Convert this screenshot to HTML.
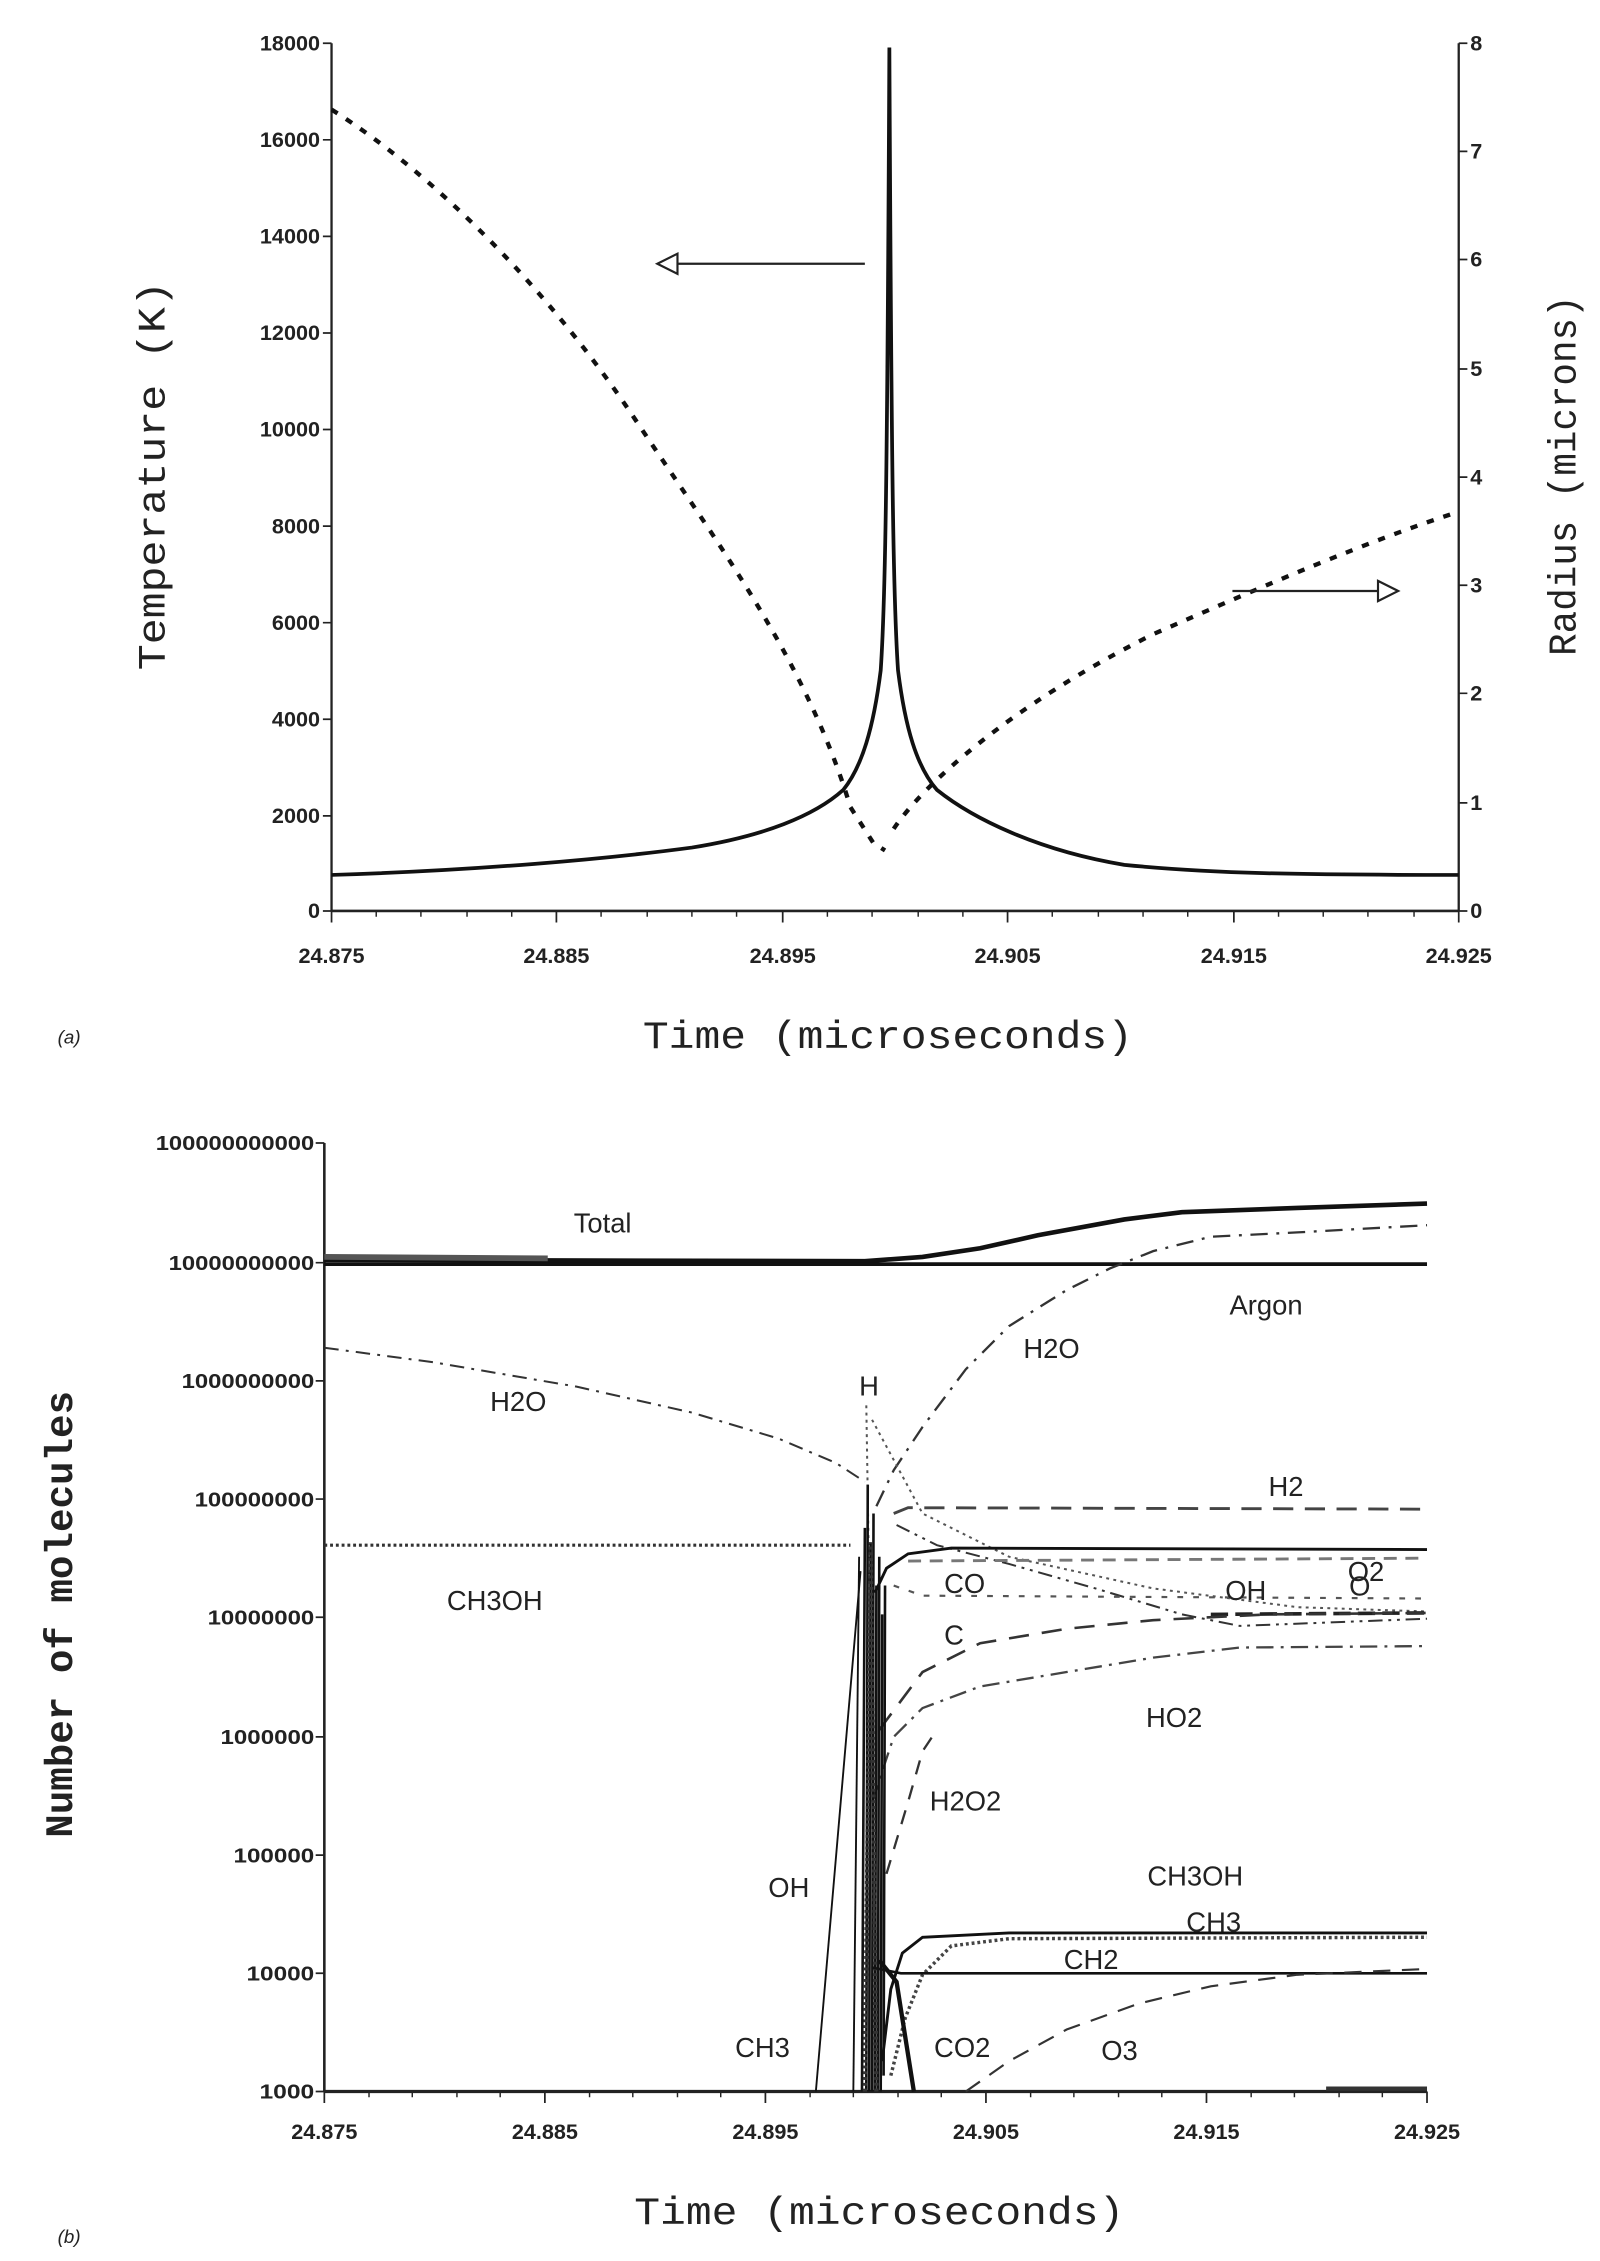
<!DOCTYPE html>
<html><head><meta charset="utf-8"><style>
html,body{margin:0;padding:0;background:#fff;}
svg{display:block;}
text{font-family:"Liberation Sans",sans-serif;fill:#222;}
.m{font-family:"Liberation Mono",monospace;}
</style></head><body>
<svg width="1600" height="2261" viewBox="0 0 1110 1568.6" xmlns="http://www.w3.org/2000/svg">
<!-- ===== Top chart (a) ===== -->
<g stroke="#222" fill="none">
<line x1="230" y1="30" x2="230" y2="632" stroke-width="1.6"/>
<line x1="1012" y1="30" x2="1012" y2="632" stroke-width="1.6"/>
<line x1="230" y1="632" x2="1012" y2="632" stroke-width="1.8"/>
<path d="M224 30H230M224 97H230M224 164H230M224 231H230M224 298H230M224 365H230M224 432H230M224 499H230M224 566H230M224 632H230" stroke-width="1.2"/>
<path d="M1012 30H1018M1012 105H1018M1012 180H1018M1012 256H1018M1012 331H1018M1012 406H1018M1012 481H1018M1012 557H1018M1012 632H1018" stroke-width="1.2"/>
<path d="M230 632V640M386 632V640M543 632V640M699 632V640M856 632V640M1012 632V640" stroke-width="1.2"/>
<path d="M261 632V636M292 632V636M324 632V636M355 632V636M417 632V636M449 632V636M480 632V636M511 632V636M574 632V636M605 632V636M637 632V636M668 632V636M730 632V636M762 632V636M793 632V636M824 632V636M887 632V636M918 632V636M949 632V636M981 632V636" stroke-width="1"/>
<path d="M230 607 C330 604 420 596 480 588 C530 580 565 566 585 548 C598 532 606 505 611 465 C614 420 615.5 350 617 33 C618.5 350 620 420 623 465 C628 505 636 532 650 548 C675 568 720 590 780 600 C840 606 900 607 1012 607" stroke="#111" stroke-width="2.6"/>
<path d="M230 76 C300 120 380 200 440 290 C500 380 560 460 590 560 L606 585 L614 590 M620 575 C640 545 700 490 800 440 C880 405 950 375 1012 355" stroke="#111" stroke-width="3" stroke-dasharray="5 7"/>
<line x1="600" y1="183" x2="470" y2="183" stroke-width="1.6"/>
<path d="M470 176 L456 183 L470 190 Z" stroke-width="1.5" fill="#fff"/>
<line x1="855" y1="410" x2="956" y2="410" stroke-width="1.6"/>
<path d="M956 403 L970 410 L956 417 Z" stroke-width="1.5" fill="#fff"/>
</g>
<g font-size="15" text-anchor="end" class="m" font-weight="bold">
<text x="222" y="35">18000</text><text x="222" y="102">16000</text><text x="222" y="169">14000</text><text x="222" y="236">12000</text><text x="222" y="303">10000</text><text x="222" y="370">8000</text><text x="222" y="437">6000</text><text x="222" y="504">4000</text><text x="222" y="571">2000</text><text x="222" y="637">0</text>
</g>
<g font-size="15" text-anchor="start" class="m" font-weight="bold">
<text x="1020" y="35">8</text><text x="1020" y="110">7</text><text x="1020" y="185">6</text><text x="1020" y="261">5</text><text x="1020" y="336">4</text><text x="1020" y="411">3</text><text x="1020" y="486">2</text><text x="1020" y="562">1</text><text x="1020" y="637">0</text>
</g>
<g font-size="15" text-anchor="middle" class="m" font-weight="bold">
<text x="230" y="668">24.875</text><text x="386" y="668">24.885</text><text x="543" y="668">24.895</text><text x="699" y="668">24.905</text><text x="856" y="668">24.915</text><text x="1012" y="668">24.925</text>
</g>
<text x="446" y="727" font-size="27" class="m" textLength="340" lengthAdjust="spacingAndGlyphs">Time (microseconds)</text>
<text x="40" y="724" font-size="13" font-style="italic">(a)</text>
<text transform="translate(114 330) rotate(-90)" font-size="27" class="m" text-anchor="middle" textLength="270" lengthAdjust="spacingAndGlyphs">Temperature (K)</text>
<text transform="translate(1093 330) rotate(-90)" font-size="27" class="m" text-anchor="middle" textLength="250" lengthAdjust="spacingAndGlyphs">Radius (microns)</text>

<!-- ===== Bottom chart (b) ===== -->
<g stroke="#222" fill="none">
<line x1="225" y1="793" x2="225" y2="1451" stroke-width="1.8"/>
<line x1="225" y1="1451" x2="990" y2="1451" stroke-width="2.2"/>
<path d="M219 793H225M219 876H225M219 958H225M219 1040H225M219 1122H225M219 1205H225M219 1287H225M219 1369H225M219 1451H225" stroke-width="1.2"/>
<path d="M225 1451V1459M378 1451V1459M531 1451V1459M684 1451V1459M837 1451V1459M990 1451V1459" stroke-width="1.2"/>
<path d="M256 1451V1455M286 1451V1455M317 1451V1455M347 1451V1455M409 1451V1455M439 1451V1455M470 1451V1455M500 1451V1455M562 1451V1455M592 1451V1455M623 1451V1455M653 1451V1455M715 1451V1455M745 1451V1455M776 1451V1455M806 1451V1455M868 1451V1455M898 1451V1455M929 1451V1455M959 1451V1455" stroke-width="1"/>
<path d="M225 874 L600 875 L640 872 L680 866 L720 857 L780 846 L820 841 L900 838 L990 835" stroke="#111" stroke-width="3.2"/>
<path d="M225 877 L990 877" stroke="#111" stroke-width="2.6"/>
<path d="M225 872 L380 873" stroke="#555" stroke-width="4"/>
<path d="M225 935 L300 945 L400 962 L480 980 L540 998 L580 1015 L600 1028" stroke="#333" stroke-width="1.4" stroke-dasharray="10 5 2 5"/>
<path d="M608 1045 L620 1020 L640 990 L670 950 L700 920 L740 895 L770 880 L800 868 L840 858 L900 855 L990 850" stroke="#333" stroke-width="1.6" stroke-dasharray="12 6 2 6"/>
<path d="M601 975 L603 1100 M605 985 L640 1050 L700 1080 L800 1102 L900 1115 L990 1118" stroke="#555" stroke-width="1.4" stroke-dasharray="2 3"/>
<path d="M620 1050 L630 1046 L990 1047" stroke="#444" stroke-width="2" stroke-dasharray="14 8"/>
<path d="M225 1072 L590 1072" stroke="#333" stroke-width="2.2" stroke-dasharray="2 2"/>
<path d="M622 1058 L650 1072 L700 1085 L760 1102 L820 1120 L860 1128 L990 1123" stroke="#333" stroke-width="1.4" stroke-dasharray="10 4 2 4 2 4"/>
<path d="M607 1105 L615 1088 L630 1078 L660 1074 L990 1075" stroke="#111" stroke-width="2"/>
<path d="M630 1083 L990 1081" stroke="#777" stroke-width="2" stroke-dasharray="9 6"/>
<path d="M840 1120 L990 1119" stroke="#222" stroke-width="2.5" stroke-dasharray="12 5"/>
<path d="M620 1100 L640 1107 L990 1109" stroke="#555" stroke-width="1.5" stroke-dasharray="4 7"/>
<path d="M610 1200 L640 1160 L680 1140 L740 1130 L800 1124 L880 1120 L990 1119" stroke="#333" stroke-width="1.8" stroke-dasharray="14 9"/>
<path d="M605 1250 L620 1205 L640 1185 L680 1170 L740 1160 L800 1150 L860 1143 L990 1142" stroke="#444" stroke-width="1.6" stroke-dasharray="12 5 2 5"/>
<path d="M615 1300 L630 1250 L640 1215 L650 1200" stroke="#333" stroke-width="1.6" stroke-dasharray="10 8"/>
<path d="M566 1451 L597 1090" stroke="#111" stroke-width="1.3"/>
<path d="M592 1451 L596 1080" stroke="#111" stroke-width="1.3"/>
<path d="M598 1451 L600 1060 M601 1451 L602 1030 M603 1451 L604 1070 M605 1451 L606 1050 M607 1451 L608 1100 M609 1451 L610 1080 M611 1451 L612 1120 M613 1440 L614 1100" stroke="#111" stroke-width="1.8"/>
<path d="M600 1451 L604 1070 L608 1451" stroke="#333" stroke-width="3" stroke-dasharray="2 2"/>
<path d="M612 1430 L618 1380 L626 1355 L640 1344 L700 1341 L990 1341" stroke="#111" stroke-width="2"/>
<path d="M618 1440 L628 1400 L640 1370 L660 1350 L700 1345 L990 1344" stroke="#444" stroke-width="2.4" stroke-dasharray="2 2"/>
<path d="M605 1365 L625 1369 L990 1369" stroke="#111" stroke-width="1.8"/>
<path d="M610 1360 L622 1375 L634 1451" stroke="#111" stroke-width="3"/>
<path d="M670 1451 L700 1430 L740 1408 L790 1390 L840 1378 L900 1370 L990 1366" stroke="#333" stroke-width="1.5" stroke-dasharray="12 8"/>
<path d="M920 1449 L990 1449" stroke="#333" stroke-width="3"/>
</g>
<g font-size="14" text-anchor="end" class="m" font-weight="bold">
<text x="218" y="798" textLength="110" lengthAdjust="spacingAndGlyphs">100000000000</text><text x="218" y="881" textLength="101" lengthAdjust="spacingAndGlyphs">10000000000</text><text x="218" y="963" textLength="92" lengthAdjust="spacingAndGlyphs">1000000000</text><text x="218" y="1045" textLength="83" lengthAdjust="spacingAndGlyphs">100000000</text><text x="218" y="1127" textLength="74" lengthAdjust="spacingAndGlyphs">10000000</text><text x="218" y="1210" textLength="65" lengthAdjust="spacingAndGlyphs">1000000</text><text x="218" y="1292" textLength="56" lengthAdjust="spacingAndGlyphs">100000</text><text x="218" y="1374" textLength="47" lengthAdjust="spacingAndGlyphs">10000</text><text x="218" y="1456" textLength="38" lengthAdjust="spacingAndGlyphs">1000</text>
</g>
<g font-size="15" text-anchor="middle" class="m" font-weight="bold">
<text x="225" y="1484">24.875</text><text x="378" y="1484">24.885</text><text x="531" y="1484">24.895</text><text x="684" y="1484">24.905</text><text x="837" y="1484">24.915</text><text x="990" y="1484">24.925</text>
</g>
<text x="440" y="1543" font-size="27" class="m" textLength="340" lengthAdjust="spacingAndGlyphs">Time (microseconds)</text>
<text x="40" y="1556" font-size="13" font-style="italic">(b)</text>
<text transform="translate(50 1120) rotate(-90)" font-size="27" class="m" font-weight="bold" text-anchor="middle" textLength="310" lengthAdjust="spacingAndGlyphs">Number of molecules</text>
<g font-size="19" class="m">
<text x="398" y="855">Total</text>
<text x="853" y="912">Argon</text>
<text x="710" y="942">H2O</text>
<text x="340" y="979">H2O</text>
<text x="596" y="968">H</text>
<text x="880" y="1038">H2</text>
<text x="935" y="1097">O2</text>
<text x="310" y="1117">CH3OH</text>
<text x="655" y="1105">CO</text>
<text x="850" y="1110">OH</text>
<text x="936" y="1107">O</text>
<text x="655" y="1141">C</text>
<text x="795" y="1198">HO2</text>
<text x="645" y="1256">H2O2</text>
<text x="533" y="1316">OH</text>
<text x="796" y="1308">CH3OH</text>
<text x="823" y="1340">CH3</text>
<text x="738" y="1366">CH2</text>
<text x="510" y="1427">CH3</text>
<text x="648" y="1427">CO2</text>
<text x="764" y="1429">O3</text>
</g>
</svg>
</body></html>
